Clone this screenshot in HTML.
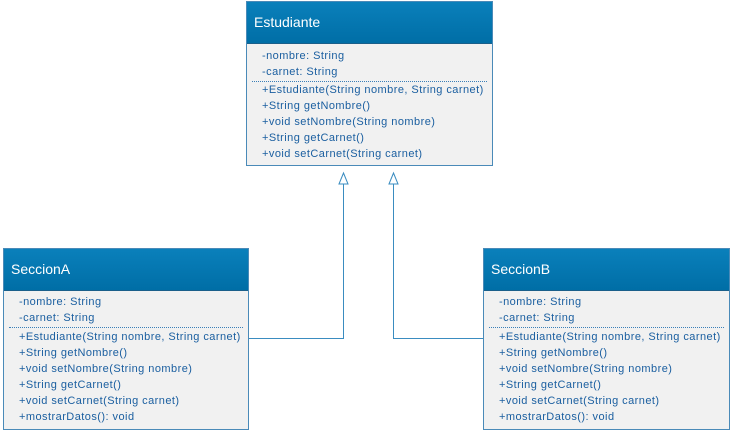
<!DOCTYPE html>
<html><head><meta charset="utf-8"><style>
body{margin:0;width:732px;height:432px;background:#fff;position:relative;overflow:hidden;font-family:"Liberation Sans",sans-serif}
.box{position:absolute;background:#f1f1f1;border:1px solid #4a8ab8;box-sizing:border-box}
.hd{position:absolute;left:0;right:0;top:0;height:41px;background:linear-gradient(#0a80bb,#006ea6);color:#fff;font-size:14px;line-height:41px;padding-left:7px;border-bottom:1px solid #1a5f8a}
.t{position:absolute;font-size:11px;letter-spacing:0.45px;color:#1b5fa0;white-space:nowrap;line-height:16px}
.sep{position:absolute;border-top:1px dotted #3a7fb8}
</style></head><body>
<svg width="732" height="432" style="position:absolute;left:0;top:0">
<g stroke="#3a8cc0" stroke-width="1" fill="#fff">
<path d="M343.5 181 V338.5 H248" fill="none"/>
<path d="M393.5 181 V338.5 H484" fill="none"/>
<path d="M339 184 L343.5 173 L348 184 Z"/>
<path d="M389 184 L393.5 173 L398 184 Z"/>
</g></svg>

<div class="box" style="left:246px;top:1px;width:247px;height:165px">
<div class="hd" style="padding-left:7px">Estudiante</div>
<div class="t" style="left:15px;top:46px">-nombre: String<br>-carnet: String</div>
<div class="sep" style="left:5px;right:5px;top:79px"></div>
<div class="t" style="left:15px;top:80px">+Estudiante(String nombre, String carnet)<br>+String getNombre()<br>+void setNombre(String nombre)<br>+String getCarnet()<br>+void setCarnet(String carnet)</div>
</div>

<div class="box" style="left:3px;top:248px;width:246px;height:182px">
<div class="hd">SeccionA</div>
<div class="t" style="left:15px;top:45px">-nombre: String<br>-carnet: String</div>
<div class="sep" style="left:5px;right:5px;top:78px"></div>
<div class="t" style="left:15px;top:80px">+Estudiante(String nombre, String carnet)<br>+String getNombre()<br>+void setNombre(String nombre)<br>+String getCarnet()<br>+void setCarnet(String carnet)<br>+mostrarDatos(): void</div>
</div>

<div class="box" style="left:483px;top:248px;width:247px;height:182px">
<div class="hd">SeccionB</div>
<div class="t" style="left:15px;top:45px">-nombre: String<br>-carnet: String</div>
<div class="sep" style="left:5px;right:5px;top:78px"></div>
<div class="t" style="left:15px;top:80px">+Estudiante(String nombre, String carnet)<br>+String getNombre()<br>+void setNombre(String nombre)<br>+String getCarnet()<br>+void setCarnet(String carnet)<br>+mostrarDatos(): void</div>
</div>
</body></html>
